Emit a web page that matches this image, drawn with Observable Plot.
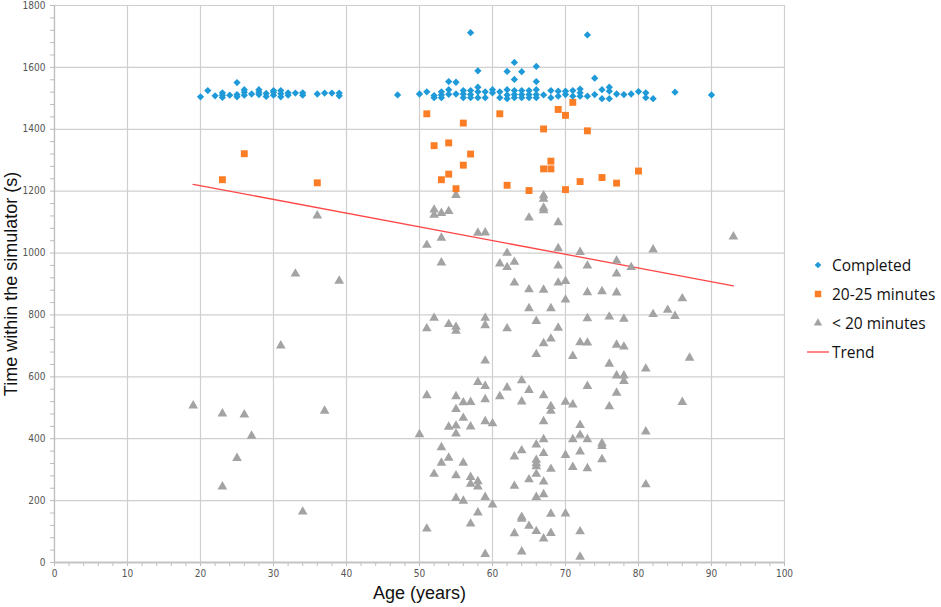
<!DOCTYPE html>
<html>
<head>
<meta charset="utf-8">
<script src="https://cdn.jsdelivr.net/npm/d3@7"></script>
<script src="https://cdn.jsdelivr.net/npm/@observablehq/plot@0.6"></script>
<style>
  body { margin: 0; background: #fff; }
  #wrap { position: relative; width: 941px; height: 607px; }
  #legend { position: absolute; left: 802px; top: 250px; font-family: "Open Sans", Lato, sans-serif; font-size: 15.5px; color: #111; }
  #legend .row { display: flex; align-items: center; height: 29px; }
  #legend svg { width: 28px; height: 14px; margin-right: 2px; }
</style>
</head>
<body>
<div id="wrap"><div id="legend"></div></div>
<script>
// ---- Data (age in years, time in seconds) ----
const completed = [
  [20,1505],[21,1525],[22,1508],[23,1518],[23,1503],[23,1510],[24,1510],
  [25,1512],[25,1505],[25,1551],[26,1520],[26,1510],[26,1528],[27,1514],
  [28,1512],[28,1520],[28,1528],[29,1506],[29,1516],[30,1510],[30,1520],[30,1525],
  [31,1505],[31,1515],[31,1525],[32,1510],[32,1518],[33,1517],[34,1510],[34,1518],
  [36,1514],[37,1517],[38,1517],[39,1508],[39,1517],[47,1511],
  [50,1514],[51,1521],[52,1509],[52,1502],[53,1521],[53,1511],[53,1502],
  [54,1528],[54,1513],[54,1554],[55,1514],[55,1552],[56,1525],[56,1514],[56,1502],
  [57,1525],[57,1512],[57,1502],[57,1712],[58,1536],[58,1521],[58,1502],[58,1589],
  [59,1521],[59,1502],[60,1528],[60,1518],[61,1521],[61,1502],
  [62,1528],[62,1511],[62,1499],[62,1587],[63,1525],[63,1512],[63,1502],[63,1616],[63,1561],
  [64,1525],[64,1512],[64,1502],[64,1586],[65,1525],[65,1512],[65,1502],
  [66,1528],[66,1512],[66,1502],[66,1603],[66,1554],[67,1511],[68,1525],[68,1502],
  [69,1523],[69,1507],[70,1523],[70,1512],[71,1525],[71,1507],
  [72,1530],[72,1518],[72,1507],[73,1507],[73,1705],[74,1512],[74,1565],
  [75,1528],[75,1499],[76,1536],[76,1523],[76,1499],[77,1514],[78,1512],[79,1514],
  [80,1522],[81,1518],[81,1502],[82,1499],[85,1520],[90,1511]
];
const minutes20to25 = [
  [23,1237],[26,1321],[36,1227],
  [51,1450],[52,1347],[53,1237],[54,1255],[54,1356],[55,1208],[56,1284],[56,1420],[57,1320],
  [61,1450],[62,1219],[65,1202],[67,1401],[67,1272],[68,1272],[68,1297],[69,1464],
  [70,1445],[70,1205],[71,1487],[72,1231],[73,1395],[75,1244],[77,1226],[80,1265]
];
const under20 = [
  [36,1121],[33,933],[39,910],[31,701],[19,507],[23,481],[26,478],[37,490],[27,409],[25,337],[23,245],[34,164],
  [55,1187],[52,1140],[52,1123],[53,1129],[54,1135],[51,1026],[53,1049],[53,969],[58,1065],[59,1066],
  [62,1000],[61,966],[62,954],[63,971],[63,904],[65,1114],[67,1186],[67,1175],[67,1146],[67,1138],
  [69,1099],[69,1015],[69,959],[69,904],[70,909],[72,1003],[73,959],[65,882],[67,881],[65,821],
  [68,821],[70,849],[73,873],[75,876],[52,790],[51,756],[54,770],[55,761],[55,748],[59,790],
  [59,766],[62,756],[66,780],[69,758],[73,789],[67,708],[68,723],[66,673],[72,711],[73,710],
  [71,667],[59,652],
  [58,583],[59,570],[62,565],[64,588],[65,557],[61,537],[51,540],[55,537],[56,517],[57,518],
  [59,527],[64,520],[67,540],[68,505],[68,490],[70,519],[71,510],[73,570],[55,495],[56,467],
  [54,438],[55,442],[55,416],[57,439],[59,456],[60,449],[67,456],[72,444],[72,412],[71,398],
  [73,398],[50,414],[53,372],[54,338],[53,322],[56,322],[52,286],[55,281],[57,276],[57,254],
  [58,262],[58,245],[59,211],[55,208],[56,199],[60,187],[58,161],[57,125],[51,109],[59,27],
  [64,362],[63,342],[66,381],[67,398],[67,353],[66,331],[66,320],[66,310],[66,286],[68,302],
  [65,268],[67,261],[63,247],[67,220],[66,211],[70,347],[71,308],[72,358],[73,304],[68,157],
  [70,158],[64,147],[64,141],[65,118],[63,94],[66,101],[67,77],[68,95],[72,100],[64,35],[72,18],
  [93,1053],[82,1011],[77,975],[79,954],[77,933],[77,872],[86,853],[84,816],[82,802],
  [85,796],[76,794],[78,787],[77,703],[78,697],[87,661],[76,642],[81,626],[77,604],[78,604],
  [78,586],[77,548],[76,504],[86,518],[81,423],[75,385],[75,376],[75,333],[81,252]
];
const trend = [[19,1222],[93,894]];

const xMajorTicks = d3.range(0, 101, 10);
const xMinorTicks = d3.range(0, 101, 2);
const yMajorTicks = d3.range(0, 1801, 200);
const yMinorTicks = d3.range(0, 1801, 40);

const series = [
  {name: "Completed", color: "#1f9ad9"},
  {name: "20-25 minutes", color: "#fb7d25"},
  {name: "< 20 minutes", color: "#a3a3a3"},
  {name: "Trend", color: "#ff4545"}
];

const tickFont = '"DejaVu Sans Condensed", "Liberation Sans Narrow", sans-serif';

const chart = Plot.plot({
  width: 941,
  height: 607,
  marginLeft: 54,
  marginRight: 157,
  marginTop: 5,
  marginBottom: 45,
  style: {background: "#fff", fontFamily: tickFont},
  x: {domain: [0, 100]},
  y: {domain: [0, 1800]},
  marks: [
    Plot.gridX(xMajorTicks, {stroke: "#cfcfcf", strokeOpacity: 1, strokeWidth: 1.2}),
    Plot.gridY(yMajorTicks, {stroke: "#cfcfcf", strokeOpacity: 1, strokeWidth: 1.2}),
    Plot.ruleX([0], {stroke: "#bdbdbd", strokeWidth: 1.2}),
    Plot.axisX({ticks: xMinorTicks, tickFormat: d => (d % 10 === 0 ? String(d) : ""), tickSize: 4, tickPadding: 3,
      fontSize: 10, color: "#555", stroke: "#bdbdbd", label: null}),
    Plot.axisY({ticks: yMinorTicks, tickFormat: d => (d % 200 === 0 ? String(d) : ""), tickSize: 4, tickPadding: 5,
      fontSize: 10, color: "#555", stroke: "#bdbdbd", label: null}),
    Plot.axisX({ticks: [], label: "Age (years)", labelAnchor: "center", labelArrow: "none", labelOffset: 36,
      fontSize: 18, fontFamily: '"Liberation Sans", Arial, sans-serif', color: "#111"}),
    Plot.axisY({ticks: [], label: "Time within the simulator (s)", labelAnchor: "center", labelArrow: "none", labelOffset: 50,
      fontSize: 18, fontFamily: '"Liberation Sans", Arial, sans-serif', color: "#111"}),
    Plot.ruleY([0], {stroke: "#c4c4c4", strokeWidth: 2}),
    Plot.lineY(trend, {x: d => d[0], y: d => d[1], stroke: series[3].color, strokeWidth: 1.3}),
    Plot.dot(under20, {x: d => d[0], y: d => d[1], symbol: "triangle", r: 3.6, fill: series[2].color, stroke: "none"}),
    Plot.dot(minutes20to25, {x: d => d[0], y: d => d[1], symbol: "square", r: 3.9, fill: series[1].color, stroke: "none"}),
    Plot.dot(completed, {x: d => d[0], y: d => d[1], symbol: "square", rotate: 45, r: 2.9, fill: series[0].color, stroke: "none"})
  ]
});
document.getElementById("wrap").prepend(chart);

// Legend
const legend = d3.select("#legend");
const symbols = ["diamond", "square", "triangle", "line"];
series.forEach((s, i) => {
  const row = legend.append("div").attr("class", "row");
  const svg = row.append("svg").attr("viewBox", "0 0 28 14");
  if (symbols[i] === "line") {
    svg.append("line").attr("x1", 5).attr("x2", 27).attr("y1", 7).attr("y2", 7)
      .attr("stroke", s.color).attr("stroke-width", 1.3);
  } else {
    const type = {diamond: d3.symbolSquare, square: d3.symbolSquare, triangle: d3.symbolTriangle}[symbols[i]];
    const size = {diamond: 22, square: 42, triangle: 30}[symbols[i]];
    svg.append("path").attr("d", d3.symbol(type, size)())
      .attr("transform", `translate(16,7)${symbols[i] === "diamond" ? " rotate(45)" : ""}`)
      .attr("fill", s.color);
  }
  row.append("span").text(s.name);
});
</script>
</body>
</html>
